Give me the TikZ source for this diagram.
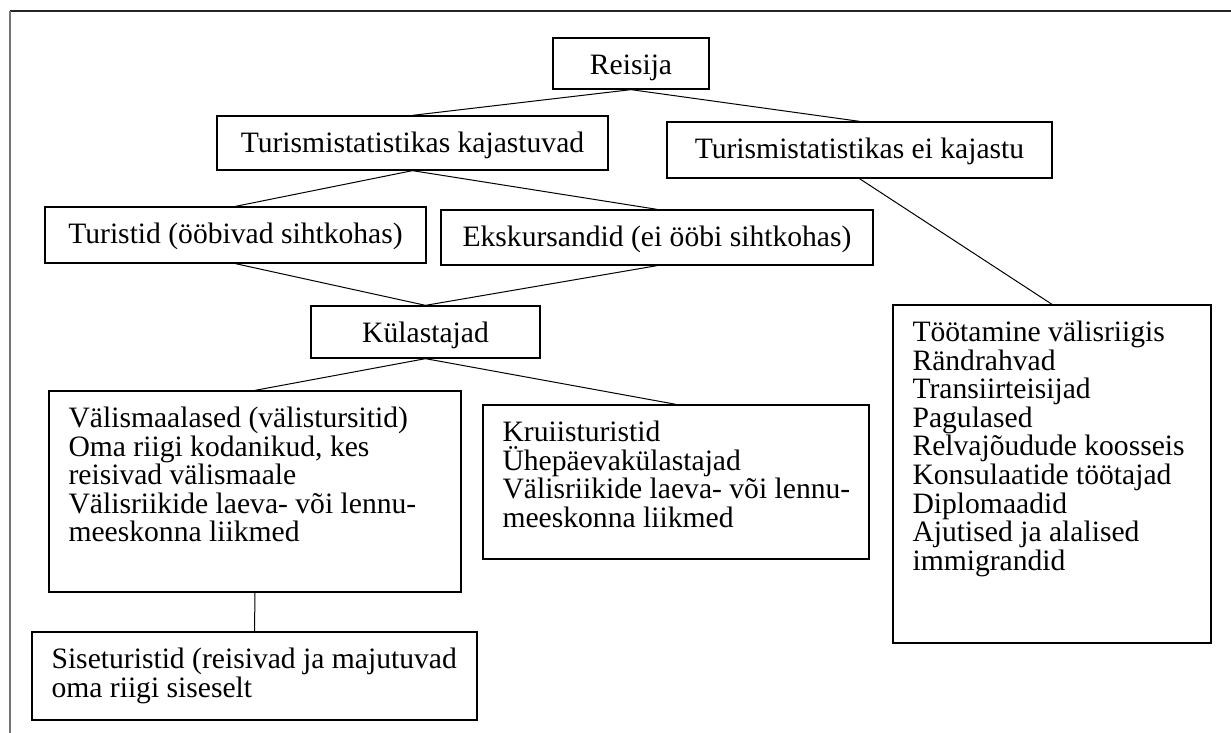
\documentclass[tikz,border=0pt]{standalone}
\usepackage{fontspec}
\setmainfont{Liberation Serif}
\begin{document}
\begin{tikzpicture}[x=1pt,y=-1pt,
  box/.style={draw=black, line width=1.3pt, rectangle, inner sep=0pt, fill=white},
  txt/.style={inner sep=0pt, font={\fontsize{29.6}{28.6}\selectfont\lineskiplimit=-50pt\relax}},
  link/.style={draw=black, line width=1pt},
  frameline/.style={line width=1.6pt}]
\useasboundingbox (0,0) rectangle (1231,733);

% outer frame: top and left edges only
\draw[frameline, black!85] (10,11) -- (1231,11);
\draw[line width=2pt, black!55] (10,11) -- (10,733);

% boxes, given by their centre and size
\node[box, minimum width=156pt, minimum height=51pt] (reisija)   at (631,63.5)   {};
\node[box, minimum width=391pt, minimum height=54pt] (kaj)       at (412.5,143)  {};
\node[box, minimum width=385pt, minimum height=56pt] (eikaj)     at (859.5,150)  {};
\node[box, minimum width=381pt, minimum height=56pt] (turistid)  at (235.5,235)  {};
\node[box, minimum width=432pt, minimum height=55pt] (ekskurs)   at (657,237.5)  {};
\node[box, minimum width=229pt, minimum height=52pt] (kulast)    at (425.5,332)  {};
\node[box, minimum width=412pt, minimum height=201pt] (valis)    at (255,491.5)  {};
\node[box, minimum width=386pt, minimum height=154pt] (kruiis)   at (676,482)    {};
\node[box, minimum width=445pt, minimum height=88pt] (sise)      at (254.5,676)  {};
\node[box, minimum width=318pt, minimum height=338pt] (tootamine) at (1052,474)  {};

% connectors
\draw[link] (reisija.south) -- (kaj.north);
\draw[link] (reisija.south) -- (eikaj.north);
\draw[link] (kaj.south) -- (turistid.north);
\draw[link] (kaj.south) -- (ekskurs.north);
\draw[link] (turistid.south) -- (kulast.north);
\draw[link] (ekskurs.south) -- (kulast.north);
\draw[link] (kulast.south) -- (valis.north);
\draw[link] (kulast.south) -- (kruiis.north);
\draw[link] (valis.south) -- (sise.north);
\draw[link] (eikaj.south) -- (tootamine.north);

% single-line labels
\node[txt, anchor=base] (t-reisija)  at ([yshift=-37pt]reisija.north)  {Reisija};
\node[txt, anchor=base] (t-kaj)      at ([yshift=-37pt]kaj.north)      {Turismistatistikas kajastuvad};
\node[txt, anchor=base] (t-eikaj)    at ([yshift=-37pt]eikaj.north)    {Turismistatistikas ei kajastu};
\node[txt, anchor=base] (t-turistid) at ([yshift=-37pt]turistid.north) {Turistid (ööbivad sihtkohas)};
\node[txt, anchor=base] (t-ekskurs)  at ([yshift=-37pt]ekskurs.north)  {Ekskursandid (ei ööbi sihtkohas)};
\node[txt, anchor=base] (t-kulast)   at ([yshift=-37pt]kulast.north)   {Külastajad};

% multi-line labels, left aligned
\node[txt, anchor=north west, align=left] (t-valis) at ([xshift=20pt,yshift=-9pt]valis.north west)
  {\rule{0pt}{28pt}Välismaalased (välistursitid)\\Oma riigi kodanikud, kes\\reisivad välismaale\\Välisriikide laeva- või lennu-\\meeskonna liikmed};
\node[txt, anchor=north west, align=left] (t-kruiis) at ([xshift=20pt,yshift=-9pt]kruiis.north west)
  {\rule{0pt}{28pt}Kruiisturistid\\Ühepäevakülastajad\\Välisriikide laeva- või lennu-\\meeskonna liikmed};
\node[txt, anchor=north west, align=left] (t-sise) at ([xshift=20pt,yshift=-9pt]sise.north west)
  {\rule{0pt}{28pt}Siseturistid (reisivad ja majutuvad\\oma riigi siseselt};
\node[txt, anchor=north west, align=left] (t-tootamine) at ([xshift=20pt,yshift=-9pt]tootamine.north west)
  {\rule{0pt}{28pt}Töötamine välisriigis\\Rändrahvad\\Transiirteisijad\\Pagulased\\Relvajõudude koosseis\\Konsulaatide töötajad\\Diplomaadid\\Ajutised ja alalised\\immigrandid};
\end{tikzpicture}
\end{document}
